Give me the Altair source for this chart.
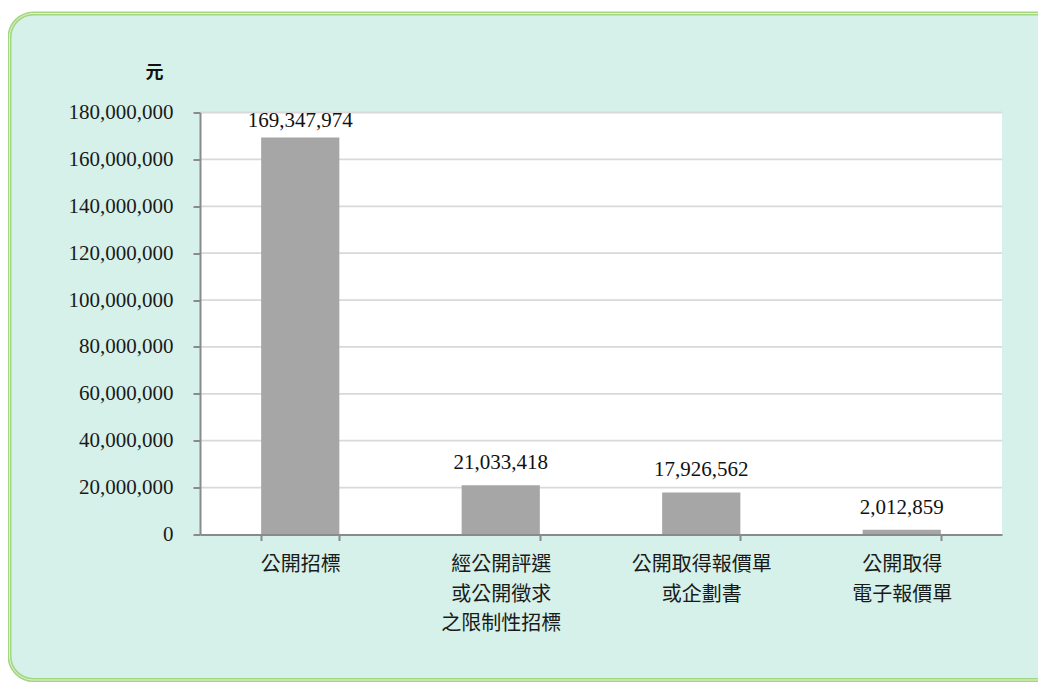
import altair as alt
import pandas as pd

# ---- data ----
categories = [
    "公開招標",
    "經公開評選|或公開徵求|之限制性招標",
    "公開取得報價單|或企劃書",
    "公開取得|電子報價單",
]
amounts = [169347974, 21033418, 17926562, 2012859]
y_ticks = [0, 20000000, 40000000, 60000000, 80000000, 100000000,
           120000000, 140000000, 160000000, 180000000]
grid_values = y_ticks[1:]
unit_label = "元"

df = pd.DataFrame({"cat": categories, "amount": amounts})
grid_df = pd.DataFrame({"g": grid_values})
one = alt.Data(values=[{"k": 1}])

W, H = 802, 422
y_scale = alt.Scale(domain=[0, 180000000], nice=False, zero=True)
x_scale = alt.Scale(paddingInner=0.61, paddingOuter=0.305)

axis_gray = "#8a8a8a"
x_axis = alt.Axis(
    title=None, labelExpr="split(datum.label, '|')", labelAngle=0,
    labelFont="Noto Sans CJK TC", labelFontSize=20, labelColor="#1a1a1a",
    labelLineHeight=29.5, labelPadding=14, labelBaseline="top", labelLimit=0,
    tickBand="extent", tickSize=6, tickWidth=2, tickColor=axis_gray,
    domainColor=axis_gray, domainWidth=2, zindex=1,
)
y_axis = alt.Axis(
    values=y_ticks, labelExpr="format(datum.value, ',')", grid=False,
    title=unit_label, titleAngle=0, titleX=-46, titleY=-40,
    titleAlign="center", titleBaseline="middle",
    titleFont="Noto Sans CJK TC", titleFontWeight="bold", titleFontSize=18,
    titleColor="#111111",
    labelFont="Liberation Serif", labelFontSize=21, labelColor="#1a1a1a",
    labelPadding=20, tickSize=7, tickWidth=2, tickColor=axis_gray,
    domainColor=axis_gray, domainWidth=2, zindex=1,
)

# decorative frame (chart-area background with rounded green border)
fx, fx2, fy, fy2 = -190.5, 860, -99, 567.5
frame = alt.Chart(one).mark_rect(
    fill="#d6f1e9", stroke="#a3d77f", strokeWidth=4, cornerRadius=24
).encode(x=alt.value(fx), x2=alt.value(fx2), y=alt.value(fy), y2=alt.value(fy2))
frame_inner = alt.Chart(one).mark_rect(
    fillOpacity=0, stroke="#e4f4d8", strokeWidth=1, cornerRadius=24
).encode(x=alt.value(fx), x2=alt.value(fx2), y=alt.value(fy), y2=alt.value(fy2))

# white plot area
plot_bg = alt.Chart(one).mark_rect(fill="white").encode(
    x=alt.value(0), x2=alt.value(W), y=alt.value(0), y2=alt.value(H)
)

grid = alt.Chart(grid_df).mark_rule(color="#d9d9d9", strokeWidth=1.8).encode(
    y=alt.Y("g:Q", scale=y_scale, axis=y_axis)
)

bars = alt.Chart(df).mark_bar(color="#a6a6a6").encode(
    x=alt.X("cat:N", sort=categories, scale=x_scale, axis=x_axis),
    y=alt.Y("amount:Q", scale=y_scale, axis=y_axis),
)

labels = alt.Chart(df).transform_calculate(
    ly="min(datum.amount, 167000000)"
).mark_text(
    font="Liberation Serif", fontSize=21, dy=-16, baseline="alphabetic", color="#111111"
).encode(
    x=alt.X("cat:N", sort=categories, scale=x_scale, axis=x_axis),
    y=alt.Y("ly:Q", scale=y_scale, axis=y_axis),
    text=alt.Text("amount:Q", format=","),
)

chart = alt.layer(frame, frame_inner, plot_bg, grid, bars, labels).properties(
    width=W, height=H,
    padding={"left": 192, "top": 104.5, "right": 36, "bottom": 149.5},
    autosize=alt.AutoSizeParams(type="none"),
    background="white",
).configure_view(stroke=None)

chart.save("out.html", embed_options={"renderer": "svg", "actions": False})
